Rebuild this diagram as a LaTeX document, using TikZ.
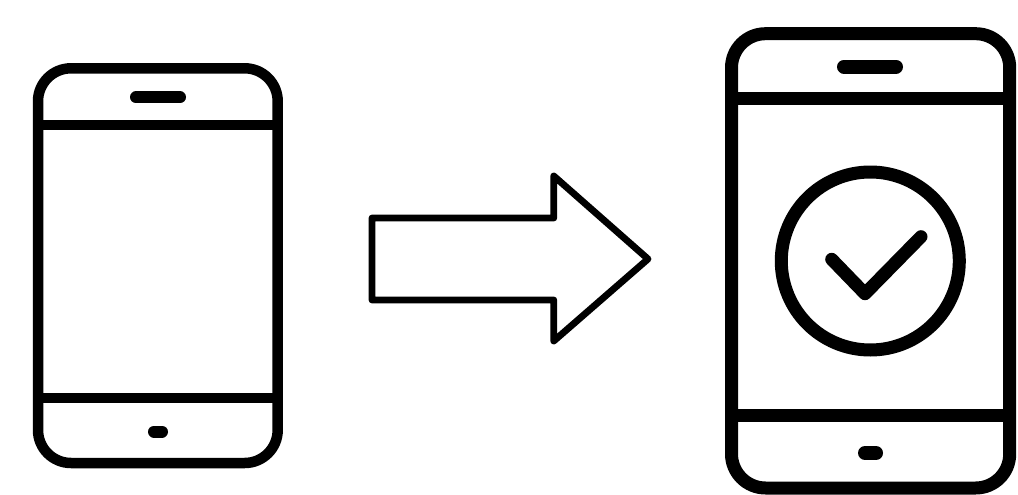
\documentclass[tikz,border=0pt]{standalone}
\begin{document}
\begin{tikzpicture}[x=1pt,y=-1pt,
  ln/.style={draw=black,line join=round,line cap=round},
  phoneA/.style={ln,line width=10.5},
  phoneAdot/.style={ln,line width=12},
  phoneB/.style={ln,line width=13},
  phoneBdot/.style={ln,line width=14},
  arrowln/.style={ln,line width=6.8}]
\useasboundingbox (0,0) rectangle (1018,495);
% left phone
\draw[phoneA,rounded corners=33] (38,68.3) rectangle (277.7,463);
\draw[phoneA,line cap=butt] (38,125) -- (278,125);
\draw[phoneA,line cap=butt] (38,398) -- (278,398);
\draw[phoneAdot] (136,97.3) -- (180,97.3);
\draw[phoneAdot] (154,431.5) -- (162,431.5);
% arrow
\draw[arrowln] (372,218) -- (553.8,218) -- (553.8,176) -- (648,259) -- (553.8,341) -- (553.8,300) -- (372,300) -- cycle;
% right phone
\draw[phoneB,rounded corners=34] (731.5,33.7) rectangle (1009.7,488);
\draw[phoneB,line cap=butt] (731.5,98.5) -- (1009.7,98.5);
\draw[phoneB,line cap=butt] (731.5,415) -- (1009.7,415);
\draw[phoneBdot] (844,66.7) -- (896,66.7);
\draw[phoneBdot] (865,453) -- (876,453);
\draw[phoneB] (870.3,261) circle (89);
\draw[phoneB] (831.7,259.3) -- (865,293.7) -- (921,236.7);
\end{tikzpicture}
\end{document}
